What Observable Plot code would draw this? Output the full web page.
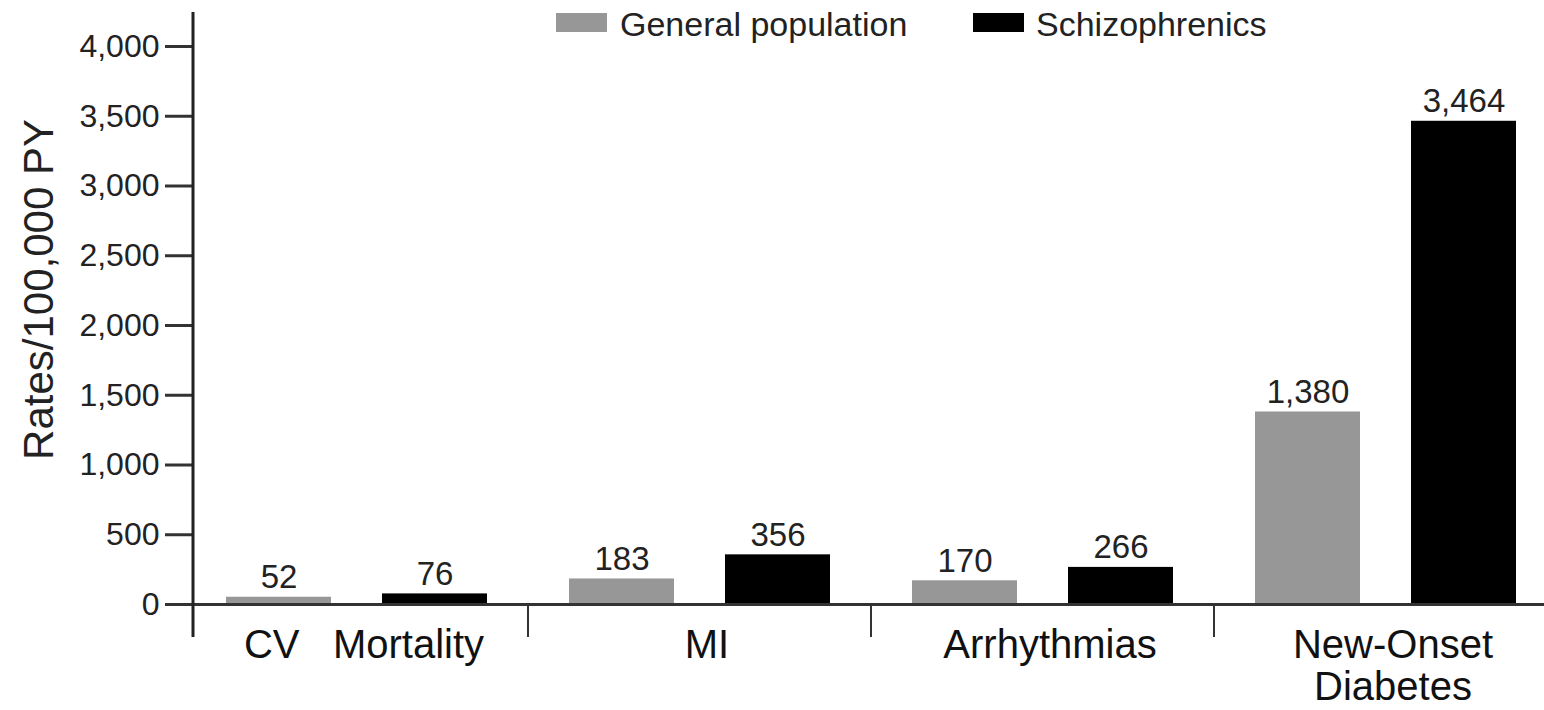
<!DOCTYPE html>
<html><head><meta charset="utf-8">
<script src="https://cdn.jsdelivr.net/npm/d3@7"></script>
<script src="https://cdn.jsdelivr.net/npm/@observablehq/plot@0.6"></script>
<style>
body{margin:0;background:#fff;font-family:"Liberation Sans",Arial,sans-serif;overflow:hidden}
#wrap{position:relative;width:1544px;height:710px;overflow:hidden}
#legend{position:absolute;top:0;left:0;width:100%;height:46px;font-size:34px;color:#222;z-index:2}
.sw{position:absolute;top:13px;width:51px;height:19px}
.lt{position:absolute;top:5px;line-height:38px;white-space:nowrap}
</style></head><body>
<div id="wrap"><div id="legend"></div></div>
<script>
const categories = ["CV\u00a0\u00a0\u00a0Mortality", "MI", "Arrhythmias", "New-Onset\nDiabetes"];
const series = ["General population", "Schizophrenics"];
const generalPopulation = [52, 183, 170, 1380];
const schizophrenics = [76, 356, 266, 3464];
const yTicks = [0, 500, 1000, 1500, 2000, 2500, 3000, 3500, 4000];
const yLabel = "Rates/100,000 PY";
const seriesColors = ["#979797", "#000000"];

const table = categories.flatMap((c, i) => [
  {group: c, series: series[0], value: generalPopulation[i]},
  {group: c, series: series[1], value: schizophrenics[i]}
]);
const fmt = d3.format(",");

const plot = Plot.plot({
  width: 1544, height: 710,
  marginLeft: 190, marginRight: -21, marginTop: 46, marginBottom: 106,
  style: {fontFamily: '"Liberation Sans", Arial, sans-serif', fontSize: "32px", color: "#222", background: "transparent"},
  fx: {domain: categories, padding: 0, axis: null},
  x: {domain: series, paddingInner: 0.325, paddingOuter: 0.257, align: 0.42, axis: null},
  y: {domain: [0, 4000], axis: null},
  color: {domain: series, range: seriesColors},
  marks: [
    Plot.barY(table, {fx: "group", x: "series", y: "value", fill: "series"}),
    Plot.ruleY([0], {stroke: "#333", strokeWidth: 3}),
    Plot.axisY(yTicks, {tickFormat: fmt, tickSize: 27, tickPadding: 6, fontSize: 32, stroke: "#333", strokeWidth: 3, label: null}),
    Plot.ruleX([categories[0]], {fx: d => d, x: () => series[0], dx: -86, insetTop: -34, insetBottom: -33, stroke: "#222", strokeWidth: 3}),
    Plot.ruleX(categories.slice(1), {fx: d => d, x: () => series[0], dx: -94, y1: 0, y2: 0, insetBottom: -33, stroke: "#333", strokeWidth: 2}),
    Plot.text(table, {fx: "group", x: "series", y: "value", text: d => fmt(d.value), lineAnchor: "bottom", dy: -9, fontSize: 33, fill: "#222"}),
    Plot.text(categories, {fx: d => d, text: d => d, frameAnchor: "bottom", lineAnchor: "top", dy: 24, fontSize: 40, lineHeight: 1.05, fill: "#111"}),
    Plot.text([yLabel], {fx: () => categories[0], text: d => d, frameAnchor: "left", textAnchor: "middle", rotate: -90, dx: -153, dy: -36, fontSize: 42, fill: "#222"})
  ]
});
document.getElementById("wrap").appendChild(plot);

const legend = document.getElementById("legend");
const swX = [556, 973];
const txX = [620, 1036];
series.forEach((s, i) => {
  const sw = document.createElement("div");
  sw.className = "sw"; sw.style.left = swX[i] + "px"; sw.style.background = seriesColors[i];
  legend.appendChild(sw);
  const t = document.createElement("div");
  t.className = "lt"; t.style.left = txX[i] + "px"; t.textContent = s;
  legend.appendChild(t);
});
</script>
</body></html>
